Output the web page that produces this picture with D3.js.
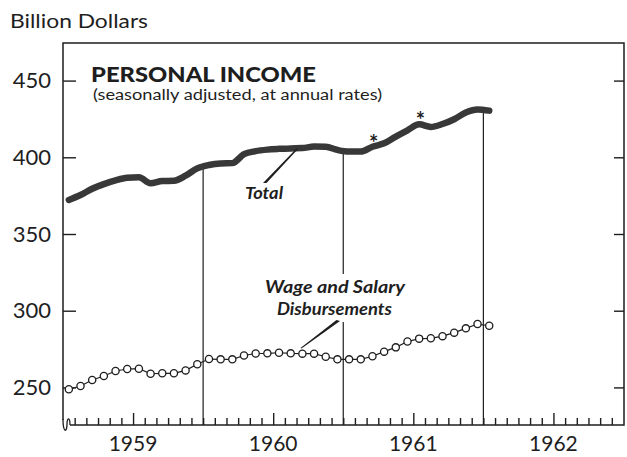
<!DOCTYPE html>
<html>
<head>
<meta charset="utf-8">
<script src="https://cdn.jsdelivr.net/npm/d3@7"></script>
<style>
  html, body { margin: 0; padding: 0; background: #fff; }
  svg { display: block; }
</style>
</head>
<body>
<div id="chart"></div>
<script>
// Personal income, monthly Jan 1959 .. Jan 1962 (billion dollars, annual rates)
const WIDTH = 627;
const HEIGHT = 457;

const years = [1959, 1960, 1961, 1962];
const yTicks = [250, 300, 350, 400, 450];

// month index 0 = Jan 1959
const totalIncome = [372.2, 375.4, 379.5, 382.5, 385, 386.7, 387, 383, 384.5, 384.7, 388, 392.8,
  395, 396, 396.2, 402, 404, 405, 405.5, 405.8, 406, 407, 406.9, 404.8,
  403.7, 403.7, 406.9, 409.1, 413.5, 417.6, 421.5, 419.8, 421.7, 424.8, 429.2, 431.2,
  430.4];
const wageSalary = [248.8, 250.9, 254.8, 257.4, 260.7, 262, 262.2, 258.9, 259.2, 259.2, 261.1, 265.1,
  268.5, 268.3, 268.3, 270.8, 272.1, 272.2, 272.6, 272.2, 272, 272, 270, 268.3,
  268.3, 268.3, 270.3, 273.3, 276.1, 279.9, 281.8, 282, 283.4, 285.7, 288.5, 291.3,
  290.2];
const starMonths = [26, 30];

const FONT = 'Lato, "DejaVu Sans", sans-serif';

const svg = d3.select('#chart')
  .append('svg')
  .attr('width', WIDTH)
  .attr('height', HEIGHT)
  .style('font-family', FONT);

const plotLeft = 63, plotRight = 624, plotTop = 43, plotBottom = 425;

const x = d3.scaleLinear().domain([0, 48]).range([plotLeft, 623.5]);
const y = d3.scaleLinear().domain([225.5, 474.5]).range([plotBottom, plotTop]);

const ink = '#1e1e1e';

// frame
svg.append('path')
  .attr('d', `M${plotLeft},420 L${plotLeft},${plotTop} L${plotRight},${plotTop} L${plotRight},${plotBottom} L70,${plotBottom}`)
  .attr('fill', 'none').attr('stroke', ink).attr('stroke-width', 1.5);
// axis break squiggle, bottom left
svg.append('path')
  .attr('d', `M${plotLeft},419 C${plotLeft},433 67,433 67,424 C67,417 70,417 70,${plotBottom}`)
  .attr('fill', 'none').attr('stroke', ink).attr('stroke-width', 1.3);

// y axis, left with labels
const yLeft = svg.append('g')
  .attr('transform', `translate(${plotLeft},0)`)
  .call(d3.axisLeft(y).tickValues(yTicks).tickSizeInner(-13).tickSizeOuter(0).tickPadding(12));
yLeft.select('.domain').remove();
yLeft.selectAll('line').attr('stroke', ink).attr('stroke-width', 1.4);
yLeft.selectAll('text').attr('font-size', 22).attr('fill', ink).attr('font-family', FONT);

// y axis, right ticks only
const yRight = svg.append('g')
  .attr('transform', `translate(${plotRight},0)`)
  .call(d3.axisRight(y).tickValues(yTicks).tickSizeInner(-10).tickSizeOuter(0).tickFormat(''));
yRight.select('.domain').remove();
yRight.selectAll('line').attr('stroke', ink).attr('stroke-width', 1.4);

// month ticks along the bottom
const xAxis = svg.append('g')
  .attr('transform', `translate(0,${plotBottom})`)
  .call(d3.axisBottom(x).tickValues(d3.range(1, 48)).tickSizeOuter(0).tickFormat(''));
xAxis.select('.domain').remove();
xAxis.selectAll('.tick line')
  .attr('y2', d => d % 12 === 6 ? -12 : -7)
  .attr('stroke', ink).attr('stroke-width', 1.4);

// year labels
svg.append('g').selectAll('text')
  .data(years)
  .join('text')
  .attr('x', (d, i) => x(i * 12 + 6))
  .attr('y', 451)
  .attr('text-anchor', 'middle')
  .attr('font-size', 21)
  .attr('fill', ink)
  .text(d => d);

// year dividers from the Total line down to the base
const dividers = [12, 24, 36];
svg.append('g').selectAll('line')
  .data(dividers)
  .join('line')
  .attr('x1', d => x(d)).attr('x2', d => x(d))
  .attr('y1', d => y((totalIncome[d - 1] + totalIncome[d]) / 2))
  .attr('y2', plotBottom)
  .attr('stroke', ink).attr('stroke-width', 1.2);

// Wage and salary series
const wageLine = d3.line()
  .x((d, i) => x(i + 0.5))
  .y(d => y(d));
svg.append('path')
  .datum(wageSalary)
  .attr('d', wageLine)
  .attr('fill', 'none').attr('stroke', ink).attr('stroke-width', 1.2);
svg.append('g').selectAll('circle')
  .data(wageSalary)
  .join('circle')
  .attr('cx', (d, i) => x(i + 0.5))
  .attr('cy', d => y(d))
  .attr('r', 3.6)
  .attr('fill', '#fff').attr('stroke', ink).attr('stroke-width', 1.3);

// Total series
const totalLine = d3.line()
  .curve(d3.curveMonotoneX)
  .x((d, i) => x(i + 0.5))
  .y(d => y(d));
svg.append('path')
  .datum(totalIncome)
  .attr('d', totalLine)
  .attr('fill', 'none').attr('stroke', '#383838')
  .attr('stroke-width', 6.5).attr('stroke-linecap', 'round').attr('stroke-linejoin', 'round');

// asterisks
svg.append('g').selectAll('text')
  .data(starMonths)
  .join('text')
  .attr('x', d => x(d + 0.6))
  .attr('y', d => y(totalIncome[d]) + 4)
  .attr('text-anchor', 'middle')
  .attr('font-size', 22)
  .attr('font-weight', 'bold')
  .attr('fill', ink)
  .text('*');

// title block
svg.append('text')
  .attr('x', 10).attr('y', 28)
  .attr('font-size', 18.5).attr('fill', ink)
  .attr('textLength', 138).attr('lengthAdjust', 'spacingAndGlyphs')
  .text('Billion Dollars');
svg.append('text')
  .attr('x', 91).attr('y', 82)
  .attr('font-size', 21).attr('font-weight', 900).attr('fill', ink)
  .attr('textLength', 225).attr('lengthAdjust', 'spacingAndGlyphs')
  .text('PERSONAL INCOME');
svg.append('text')
  .attr('x', 93).attr('y', 100)
  .attr('font-size', 14.5).attr('fill', ink)
  .attr('textLength', 289).attr('lengthAdjust', 'spacingAndGlyphs')
  .text('(seasonally adjusted, at annual rates)');

// Total label + leader
svg.append('path')
  .attr('d', 'M263,183 L266.5,183 L298,149 L296.5,148.5 Z')
  .attr('fill', ink);
svg.append('text')
  .attr('x', 245).attr('y', 199)
  .attr('font-size', 17).attr('font-weight', 'bold').attr('font-style', 'italic').attr('fill', ink)
  .attr('textLength', 38).attr('lengthAdjust', 'spacingAndGlyphs')
  .text('Total');

// Wage label, masks the divider behind it
svg.append('rect')
  .attr('x', 262).attr('y', 274).attr('width', 146).attr('height', 48)
  .attr('fill', '#fff');
svg.append('path')
  .attr('d', 'M336.5,320 L340,321 L301.5,348.5 L300.5,348 Z')
  .attr('fill', ink);
svg.append('text')
  .attr('x', 265).attr('y', 293)
  .attr('font-size', 16.5).attr('font-weight', 'bold').attr('font-style', 'italic').attr('fill', ink)
  .attr('textLength', 140).attr('lengthAdjust', 'spacingAndGlyphs')
  .text('Wage and Salary');
svg.append('text')
  .attr('x', 277).attr('y', 315)
  .attr('font-size', 16.5).attr('font-weight', 'bold').attr('font-style', 'italic').attr('fill', ink)
  .attr('textLength', 115).attr('lengthAdjust', 'spacingAndGlyphs')
  .text('Disbursements');
</script>
</body>
</html>
